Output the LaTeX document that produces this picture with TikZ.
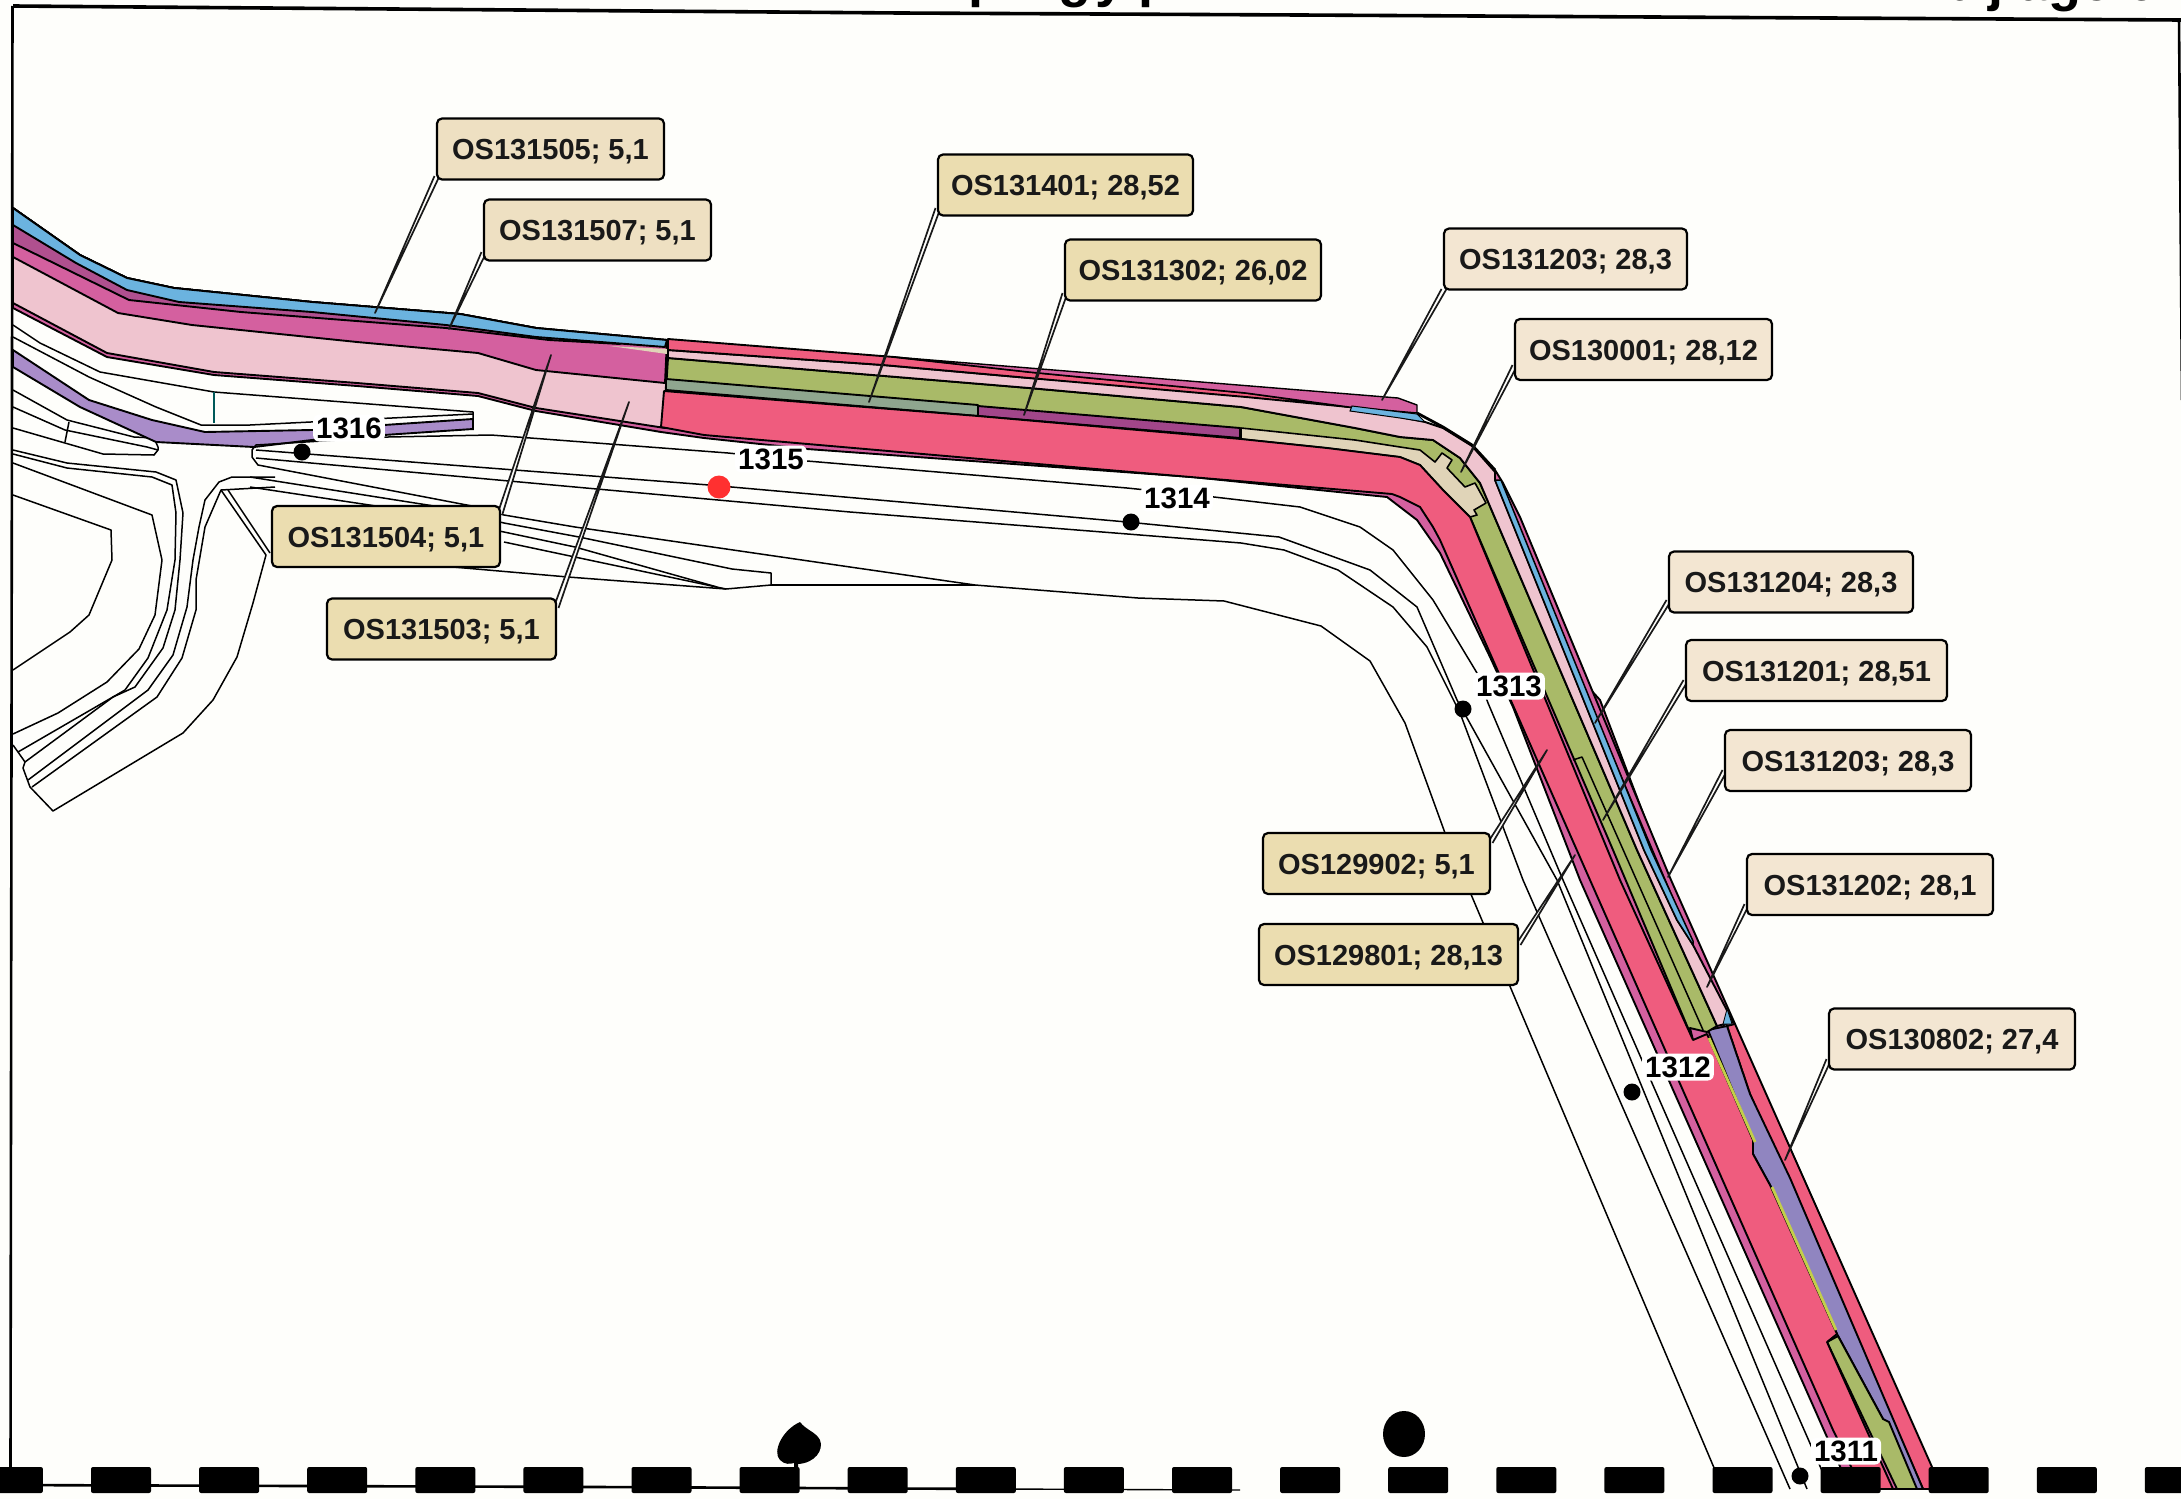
\documentclass[tikz,border=0pt]{standalone}
\usepackage{fontspec}
\setmainfont{Liberation Sans}
\definecolor{cblue}{HTML}{6BB3DF}
\definecolor{cplum}{HTML}{B0508F}
\definecolor{cmag}{HTML}{D4609F}
\definecolor{cpale}{HTML}{EFC4CF}
\definecolor{cred}{HTML}{EF5C7E}
\definecolor{cgreen}{HTML}{A9BA68}
\definecolor{cgray}{HTML}{8FA68F}
\definecolor{cstrip}{HTML}{A2468A}
\definecolor{ctan}{HTML}{E0D4B8}
\definecolor{cviolet}{HTML}{9085C0}
\definecolor{cpurple}{HTML}{A98CC9}
\definecolor{clabA}{HTML}{EBDDB0}
\definecolor{clabB}{HTML}{F3E6D2}
\definecolor{clabC}{HTML}{EEE0C2}
\definecolor{cbg}{HTML}{FEFEFB}
\tikzset{
  road/.style={draw=black,line width=1.5pt,line join=round},
  band/.style={draw=black,line width=1.9pt,line join=round},
  lab/.style={draw=black,line width=2.2pt,rounded corners=5pt,inner sep=0pt,
     minimum height=61pt,text height=21pt,text depth=0pt,font=\fontsize{29}{30}\selectfont\bfseries,text=black!90},
  labA/.style={lab,fill=clabA},
  labB/.style={lab,fill=clabB},
  labC/.style={lab,fill=clabC},
  leader/.style={draw=black!90,fill=cbg,line width=1.7pt,line join=round},
  num/.style={fill=white,rounded corners=6pt,inner sep=3pt,text height=21pt,text depth=0pt,font=\fontsize{29.5}{30}\selectfont\bfseries},
  dot/.style={circle,fill=black,inner sep=0pt,minimum size=17pt},
  reddot/.style={circle,fill=red!75!pink,inner sep=0pt,minimum size=23pt},
  frag/.style={anchor=base west,inner sep=0pt,font=\fontsize{54}{54}\selectfont\bfseries},
  punch/.style={fill=black,rounded corners=2pt}
}
\newcommand{\leadline}[2]{\draw[leader] ([xshift=-2.5pt]#1) -- (#2) -- ([xshift=2.5pt]#1);}
\begin{document}
\begin{tikzpicture}[x=1pt,y=-1pt]
\useasboundingbox (0,0) rectangle (2181,1499);
\clip (0,0) rectangle (2181,1499);
\fill[cbg] (0,0) rectangle (2181,1499);
% cropped heading tails
\node[frag] (fa) at (968,-4) {p};
\node[frag] (fb) at (1058,-4) {g};
\node[frag] (fc) at (1095,-4) {y};
\node[frag] (fd) at (1138,-4) {p};
\node[frag] (fe) at (1940,1) {bijlage 6.};
% frame
\draw[line width=3.6pt] (13,6) -- (900,13) -- (1300,15) -- (2181,20);
\draw[line width=2.6pt] (12.5,6) -- (10.5,1475);
\draw[line width=2.6pt] (2179,20) -- (2182,400);
\draw[line width=2.6pt] (0,1485) -- (600,1487) -- (1000,1489);
\draw[line width=1.4pt] (1000,1489) -- (1240,1490);
% road lines left
\draw[road] (13,325) -- (40,343) -- (100,372) -- (214,392) -- (473,412) -- (473,430);
\draw[road] (13,337) -- (89,377) -- (156,407) -- (201,425) -- (250,425) -- (473,414);
\draw[road] (13,390) -- (67,420) -- (134,437) -- (154,438) -- (158,447) -- (158,450) -- (154,455) -- (103,454) -- (13,428);
\draw[road] (13,407) -- (65,430) -- (147,447) -- (158,450);
\draw[road] (69,422) -- (65,442);
% purple band
\filldraw[band,fill=cpurple] (13,350) -- (89,400) -- (152,420) -- (205,432) -- (312,430) -- (384,425) -- (473,419) -- (473,429) -- (384,435) -- (312,440) -- (254,447) -- (156,442) -- (80,407) -- (13,367) -- cycle;
\draw[line width=2pt,teal!70!black] (214,392) -- (214,423);
% junction tip and long lines
\draw[road] (1360,527) -- (1300,507) -- (1214,497) -- (1127,488) -- (807,461) -- (728,453) -- (491,435) -- (388,437) -- (256,445) -- (252,450) -- (252,457) -- (258,465) -- (472,506) -- (504,515) -- (575,527) -- (850,567) -- (975,585) -- (1138,598) -- (1224,601) -- (1321,626) -- (1370,661) -- (1405,723) -- (1445,833) -- (1723,1489);
\draw[road] (1360,527) -- (1393,550) -- (1433,600) -- (1477,673) -- (1488,703) -- (1563,880) -- (1830,1489);
\draw[road] (256,450) -- (709,485) -- (1127,522) -- (1279,537) -- (1370,570) -- (1417,607) -- (1457,700) -- (1557,880) -- (1807,1489);
\draw[road] (256,458) -- (850,512) -- (1241,543) -- (1284,550) -- (1338,570) -- (1393,607) -- (1427,647) -- (1460,713) -- (1523,880) -- (1790,1489);
\draw[road] (250,477) -- (434,506) -- (504,523) -- (579,537) -- (732,569) -- (771,573) -- (771,585) -- (726,589) -- (504,542);
\draw[road] (771,585) -- (975,585);
\draw[road] (250,487) -- (376,506) -- (504,532) -- (575,547) -- (717,587);
\draw[road] (453,567) -- (568,577) -- (726,589);
% lower left road net
\draw[road] (13,495) -- (111,530) -- (112,560) -- (89,615) -- (70,632) -- (13,670);
\draw[road] (13,463) -- (152,515) -- (162,560) -- (155,615) -- (139,649) -- (107,682) -- (58,713) -- (13,734);
\draw[road] (13,454) -- (67,468) -- (152,477) -- (172,485) -- (176,513) -- (175,560) -- (167,610) -- (148,658) -- (125,690) -- (18,752);
\draw[road] (13,450) -- (67,463) -- (156,472) -- (176,480) -- (183,513) -- (180,560) -- (175,610) -- (163,648) -- (135,687) -- (113,697) -- (25,762);
\draw[road] (275,477) -- (232,477) -- (219,482) -- (205,500) -- (199,527) -- (193,560) -- (187,607) -- (173,655) -- (148,690) -- (28,780);
\draw[road] (275,487) -- (221,490) -- (205,527) -- (196,580) -- (196,610) -- (182,658) -- (157,697) -- (32,787);
\draw[road] (13,745) -- (18,752) -- (25,762) -- (23,768) -- (30,787) -- (53,811) -- (183,733) -- (213,700) -- (237,657) -- (253,603) -- (266,555) -- (221,490);
\draw[road] (228,490) -- (270,553);
% underlay magenta strip along the road
\filldraw[band,fill=cmag] (13,303) -- (13,308) -- (107,357) -- (214,375) -- (357,386) -- (478,396) -- (536,411) -- (661,432) -- (704,438) -- (807,449) -- (1192,477) -- (1387,497) -- (1417,520) -- (1440,553) -- (1490,657) -- (1513,707) -- (1580,880) -- (1850,1489) -- (1900,1489) -- (1600,700) -- (1400,480) -- (661,400) -- cycle;
% left band, painter's order
\filldraw[band,fill=cpale] (13,208) -- (80,255) -- (127,278) -- (174,288) -- (312,302) -- (460,314) -- (536,328) -- (667,340) -- (665,428) -- (536,408) -- (478,393) -- (357,383) -- (214,372) -- (107,353) -- (13,303) -- cycle;
\filldraw[band,fill=cmag] (13,208) -- (80,255) -- (127,278) -- (174,288) -- (312,302) -- (460,314) -- (536,328) -- (667,340) -- (665,383) -- (536,370) -- (478,353) -- (357,342) -- (192,325) -- (118,313) -- (13,257) -- cycle;
\filldraw[band,fill=cplum] (13,208) -- (80,255) -- (127,278) -- (174,288) -- (312,302) -- (460,314) -- (536,328) -- (620,344) -- (549,340) -- (446,328) -- (241,312) -- (129,300) -- (13,243) -- cycle;
\filldraw[band,fill=cblue] (13,208) -- (80,255) -- (127,278) -- (174,288) -- (312,302) -- (460,314) -- (536,328) -- (667,340) -- (665,347) -- (536,337) -- (446,325) -- (312,312) -- (179,302) -- (127,290) -- (76,263) -- (13,225) -- cycle;
\fill[ctan] (610,346) -- (667,349) -- (667,354) -- cycle;
% outer strips on the right
\filldraw[band,fill=cmag] (1495,470) -- (1503,483) -- (1520,517) -- (1671,880) -- (1735,1024) -- (1727,1026) -- (1495,480) -- cycle;
% red outer piece with violet
\filldraw[band,fill=cred] (1727,1026) -- (1735,1024) -- (1932,1467) -- (1942,1489) -- (1923,1489) -- (1750,1094) -- cycle;
\filldraw[band,fill=cviolet] (1708,1030) -- (1727,1026) -- (1750,1094) -- (1790,1178) -- (1923,1489) -- (1913,1489) -- (1883,1419) -- (1837,1334) -- (1770,1185) -- (1753,1154) -- (1753,1140) -- cycle;
\filldraw[band,fill=cgreen] (1827,1342) -- (1838,1336) -- (1883,1419) -- (1889,1422) -- (1917,1489) -- (1897,1489) -- cycle;
% green main
\filldraw[band,fill=cgreen] (668,358) -- (1029,388) -- (1241,407) -- (1355,428) -- (1400,437) -- (1433,440) -- (1460,458) -- (1480,483) -- (1637,850) -- (1717,1026) -- (1707,1032) -- (1690,1028) -- (1693,1040) -- (1613,850) -- (1470,517) -- (1443,490) -- (1420,465) -- (1400,457) -- (1327,448) -- (1241,439) -- (978,416) -- (666,390) -- cycle;
\draw[road] (1573,760) -- (1582,757) -- (1703,1030);
% pale stripe
\filldraw[band,fill=cpale] (668,350) -- (883,365) -- (1029,378) -- (1246,393) -- (1349,407) -- (1425,422) -- (1443,428) -- (1472,446) -- (1495,472) -- (1495,480) -- (1644,850) -- (1677,920) -- (1693,945) -- (1733,1022) -- (1717,1026) -- (1637,850) -- (1480,483) -- (1460,458) -- (1433,440) -- (1400,437) -- (1355,428) -- (1241,407) -- (1029,388) -- (668,358) -- cycle;
% blue right
\filldraw[band,fill=cblue,line width=1.5pt] (1495,480) -- (1501,480) -- (1651,850) -- (1693,941) -- (1693,945) -- (1677,920) -- (1644,850) -- cycle;
\filldraw[fill=cblue,draw=black,line width=.8pt] (1727,1009) -- (1723,1024) -- (1732,1024) -- cycle;
% top stripes
\filldraw[band,fill=cred] (668,339) -- (894,357) -- (1029,372) -- (1246,393) -- (1349,407) -- (1246,397) -- (1029,378) -- (883,365) -- (668,350) -- cycle;
\filldraw[band,fill=cmag,line width=1.4pt] (894,357) -- (1029,368) -- (1398,398) -- (1417,405) -- (1417,413) -- (1349,407) -- (1246,393) -- (1029,372) -- cycle;
\filldraw[fill=cblue,draw=black,line width=1pt] (1352,406) -- (1400,412) -- (1417,414) -- (1425,422) -- (1400,418) -- (1350,411) -- cycle;
\draw[line width=2.8pt,line join=round] (1417,413) -- (1443,427) -- (1472,445) -- (1495,470);
% gray and plum strips
\filldraw[band,fill=cgray] (666,379) -- (978,405) -- (978,416) -- (666,390) -- cycle;
\filldraw[band,fill=cstrip] (978,406) -- (1240,428) -- (1240,438) -- (978,416) -- cycle;
% tan section
\filldraw[band,fill=ctan,line width=1.6pt] (1241,428) -- (1355,440) -- (1400,447) -- (1420,450) -- (1435,462) -- (1442,453) -- (1452,460) -- (1447,468) -- (1465,487) -- (1475,483) -- (1486,503) -- (1474,510) -- (1477,515) -- (1470,517) -- (1443,490) -- (1420,465) -- (1400,457) -- (1327,448) -- (1241,439) -- cycle;
% big red
\filldraw[band,fill=cred] (664,391) -- (978,416) -- (1241,439) -- (1327,448) -- (1400,457) -- (1420,465) -- (1443,490) -- (1470,517) -- (1620,880) -- (1693,1040) -- (1707,1034) -- (1753,1140) -- (1753,1154) -- (1770,1185) -- (1837,1334) -- (1827,1342) -- (1893,1489) -- (1862,1489) -- (1833,1430) -- (1590,880) -- (1493,660) -- (1440,540) -- (1433,527) -- (1420,507) -- (1400,497) -- (1392,494) -- (1084,468) -- (704,435) -- (661,427) -- cycle;
\draw[line width=2.8pt,cgreen!70!yellow] (1709,1038) -- (1755,1142);
\draw[line width=2.8pt,cgreen!70!yellow] (1772,1187) -- (1836,1330);
% punch marks and dashes
\foreach \i in {-1,0,...,19}{
  \fill[punch] ({91+108.1*\i},1467) rectangle ({151+108.1*\i},1493);
}
\fill (800,1422) .. controls (782,1430) and (772,1452) .. (780,1460) .. controls (785,1465) and (790,1464) .. (794,1463) -- (794,1470) -- (798,1470) -- (798,1464) .. controls (815,1463) and (824,1450) .. (820,1440) .. controls (816,1432) and (806,1430) .. (800,1422) -- cycle;
\fill (1404,1434) ellipse [x radius=21pt,y radius=23pt];
% labels
\coordinate (e505) at (375,313);
\coordinate (e507) at (449,329);
\coordinate (e504) at (551,355);
\coordinate (e503) at (629,402);
\coordinate (e401) at (869,402);
\coordinate (e302) at (1024,415);
\coordinate (e203) at (1382,400);
\coordinate (e001) at (1461,472);
\coordinate (e204) at (1595,723);
\coordinate (e201) at (1603,820);
\coordinate (e213) at (1668,877);
\coordinate (e202) at (1707,987);
\coordinate (e802) at (1785,1160);
\coordinate (e902) at (1547,750);
\coordinate (e801) at (1575,855);
% leader start points stay under the label boxes
\coordinate (s505) at (437,176);
\coordinate (s507) at (484,252);
\coordinate (s401) at (938,208);
\coordinate (s302) at (1065,293);
\coordinate (s203) at (1444,289);
\coordinate (s001) at (1515,365);
\coordinate (s204) at (1669,600);
\coordinate (s201) at (1686,680);
\coordinate (s213) at (1725,770);
\coordinate (s202) at (1747,904);
\coordinate (s802) at (1829,1059);
\coordinate (s902) at (1490,843);
\coordinate (s801) at (1518,945);
\coordinate (s504) at (500,514);
\coordinate (s503) at (556,608);
\leadline{s505}{e505}
\leadline{s507}{e507}
\leadline{s401}{e401}
\leadline{s302}{e302}
\leadline{s203}{e203}
\leadline{s001}{e001}
\leadline{s204}{e204}
\leadline{s201}{e201}
\leadline{s213}{e213}
\leadline{s202}{e202}
\leadline{s802}{e802}
\leadline{s902}{e902}
\leadline{s801}{e801}
\leadline{s504}{e504}
\leadline{s503}{e503}
\node[labC,minimum width=227pt] (l505) at (550.5,149) {OS131505; 5,1};
\node[labC,minimum width=227pt] (l507) at (597.5,230) {OS131507; 5,1};
\node[labA,minimum width=255pt] (l401) at (1065.5,185) {OS131401; 28,52};
\node[labA,minimum width=256pt] (l302) at (1193,270) {OS131302; 26,02};
\node[labB,minimum width=243pt] (l203) at (1565.5,259) {OS131203; 28,3};
\node[labB,minimum width=257pt] (l001) at (1643.5,349.5) {OS130001; 28,12};
\node[labB,minimum width=244pt] (l204) at (1791,582) {OS131204; 28,3};
\node[labB,minimum width=261pt] (l201) at (1816.5,670.5) {OS131201; 28,51};
\node[labB,minimum width=246pt] (l213) at (1848,760.5) {OS131203; 28,3};
\node[labB,minimum width=246pt] (l202) at (1870,884.5) {OS131202; 28,1};
\node[labB,minimum width=246pt] (l802) at (1952,1039) {OS130802; 27,4};
\node[labA,minimum width=227pt] (l902) at (1376.5,863.5) {OS129902; 5,1};
\node[labA,minimum width=259pt] (l801) at (1388.5,954.5) {OS129801; 28,13};
\node[labA,minimum width=228pt] (l504) at (386,536.5) {OS131504; 5,1};
\node[labA,minimum width=229pt] (l503) at (441.5,629) {OS131503; 5,1};
% station marks
\node[dot] (d1316) at (302,452) {};
\node[reddot] (d1315) at (719,487) {};
\node[dot] (d1314) at (1131,522) {};
\node[dot] (d1313) at (1463,709) {};
\node[dot] (d1312) at (1632,1092) {};
\node[dot] (d1311) at (1800,1476) {};
\node[num] (n1316) at (349,428) {1316};
\node[num] (n1315) at (771,459) {1315};
\node[num] (n1314) at (1177,498) {1314};
\node[num] (n1313) at (1509,686) {1313};
\node[num] (n1312) at (1678,1067) {1312};
\node[num] (n1311) at (1846,1451) {1311};
\end{tikzpicture}
\end{document}
